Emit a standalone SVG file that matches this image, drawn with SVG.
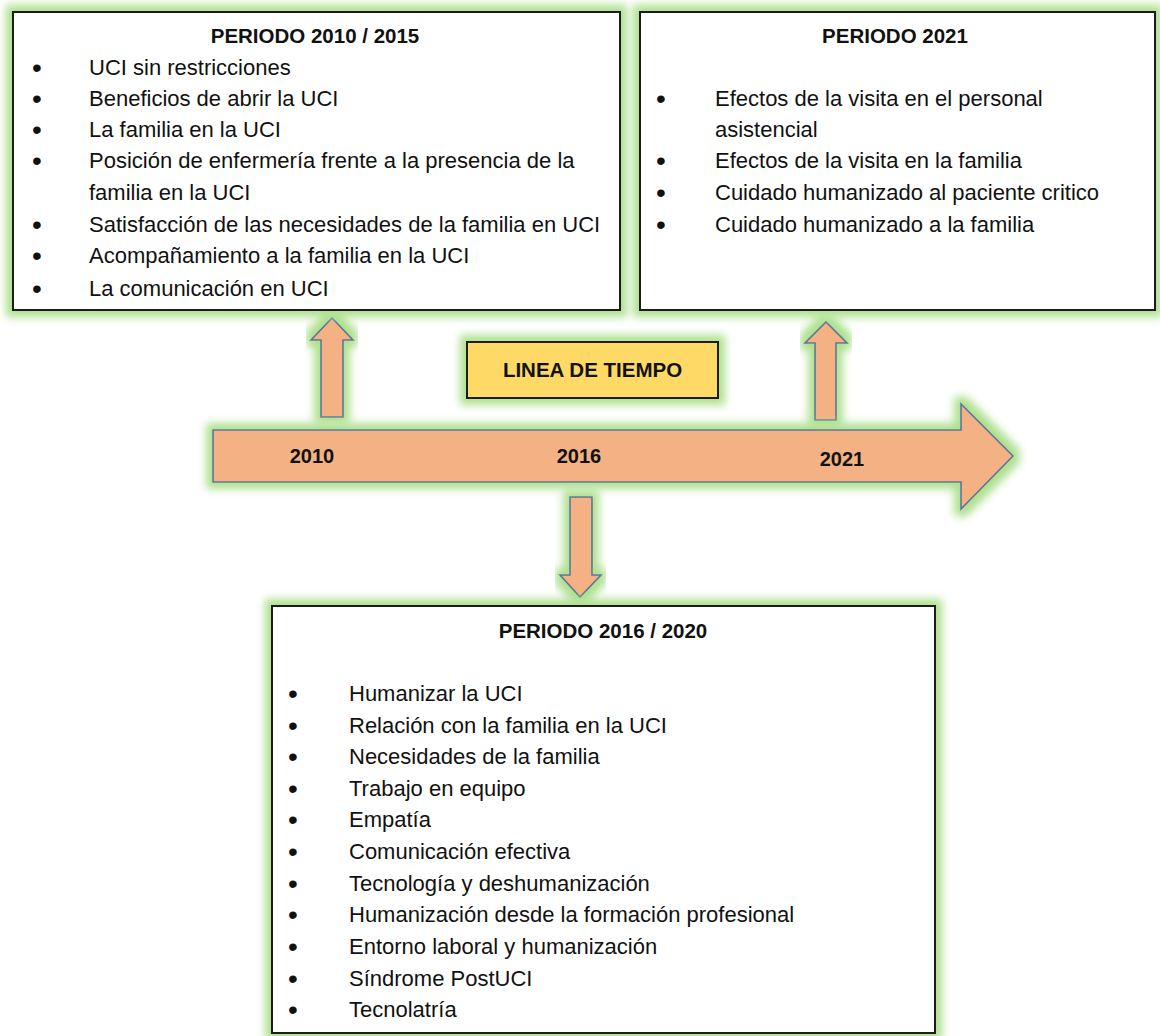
<svg xmlns="http://www.w3.org/2000/svg" width="1160" height="1036" viewBox="0 0 1160 1036">
<defs>
<filter id="glow" x="-10%" y="-25%" width="120%" height="150%">
<feMorphology in="SourceAlpha" operator="dilate" radius="6" result="d"/>
<feGaussianBlur in="d" stdDeviation="4.5" result="b"/>
<feFlood flood-color="#ADE08E" flood-opacity="1"/>
<feComposite in2="b" operator="in" result="g"/>
<feMerge><feMergeNode in="g"/><feMergeNode in="SourceGraphic"/></feMerge>
</filter>
<style>
.box{fill:#fff;stroke:#1a1a1a;stroke-width:2}
.tl{fill:#FFD966;stroke:#1a1a1a;stroke-width:2}
.arr{fill:#F4B183;stroke:#5B7499;stroke-width:1.6;stroke-linejoin:miter}
text{font-family:"Liberation Sans",Arial,sans-serif;fill:#111}
.t{font-size:20.5px;font-weight:bold;text-anchor:middle}
.i{font-size:22px}
.b text{font-size:28px;text-anchor:middle}
.y{font-size:20px;font-weight:bold;text-anchor:middle}
</style>
</defs>
<rect width="1160" height="1036" fill="#fff"/>

<g id="connectors">
<path class="arr" filter="url(#glow)" d="M321,417 V340 H311 L332,318 L353,340 H343 V417 Z"/>
<path class="arr" filter="url(#glow)" d="M815,420 V343 H805 L826,322 L847,343 H836 V420 Z"/>
<path class="arr" filter="url(#glow)" d="M570,497 V575 H560 L580,597 L601,575 H592 V497 Z"/>
</g>

<g id="node-timeline">
<path class="arr" filter="url(#glow)" d="M213,430 H961 V404 L1013,456 L961,509 V482 H213 Z"/>
<text class="y" x="312" y="463">2010</text>
<text class="y" x="579" y="463">2016</text>
<text class="y" x="842" y="466">2021</text>
</g>

<g id="node-title">
<rect class="tl" filter="url(#glow)" x="467" y="342" width="251" height="56"/>
<text class="t" x="592.5" y="377" style="font-size:20.5px">LINEA DE TIEMPO</text>
</g>

<g id="node-p2010">
<rect class="box" filter="url(#glow)" x="13" y="12" width="607" height="298"/>
<text class="t" x="315" y="43">PERIODO 2010 / 2015</text>
<g class="b">
<text x="37" y="77">•</text>
<text x="37" y="108">•</text>
<text x="37" y="139">•</text>
<text x="37" y="170">•</text>
<text x="37" y="234">•</text>
<text x="37" y="265">•</text>
<text x="37" y="298">•</text>
</g>
<text class="i" x="89" y="75">UCI sin restricciones</text>
<text class="i" x="89" y="106">Beneficios de abrir la UCI</text>
<text class="i" x="89" y="137">La familia en la UCI</text>
<text class="i" x="89" y="168">Posición de enfermería frente a la presencia de la</text>
<text class="i" x="89" y="200">familia en la UCI</text>
<text class="i" x="89" y="232">Satisfacción de las necesidades de la familia en UCI</text>
<text class="i" x="89" y="263">Acompañamiento a la familia en la UCI</text>
<text class="i" x="89" y="296">La comunicación en UCI</text>
</g>

<g id="node-p2021">
<rect class="box" filter="url(#glow)" x="640" y="12" width="515" height="298"/>
<text class="t" x="895" y="43">PERIODO 2021</text>
<g class="b">
<text x="661" y="108">•</text>
<text x="661" y="170">•</text>
<text x="661" y="202">•</text>
<text x="661" y="234">•</text>
</g>
<text class="i" x="715" y="106">Efectos de la visita en el personal</text>
<text class="i" x="715" y="137">asistencial</text>
<text class="i" x="715" y="168">Efectos de la visita en la familia</text>
<text class="i" x="715" y="200">Cuidado humanizado al paciente critico</text>
<text class="i" x="715" y="232">Cuidado humanizado a la familia</text>
</g>

<g id="node-p2016">
<rect class="box" filter="url(#glow)" x="272" y="606" width="663" height="427"/>
<text class="t" x="603" y="638">PERIODO 2016 / 2020</text>
<g class="b">
<text x="293" y="703">•</text>
<text x="293" y="735">•</text>
<text x="293" y="766">•</text>
<text x="293" y="798">•</text>
<text x="293" y="829">•</text>
<text x="293" y="861">•</text>
<text x="293" y="893">•</text>
<text x="293" y="924">•</text>
<text x="293" y="956">•</text>
<text x="293" y="988">•</text>
<text x="293" y="1019">•</text>
</g>
<text class="i" x="349" y="701">Humanizar la UCI</text>
<text class="i" x="349" y="733">Relación con la familia en la UCI</text>
<text class="i" x="349" y="764">Necesidades de la familia</text>
<text class="i" x="349" y="796">Trabajo en equipo</text>
<text class="i" x="349" y="827">Empatía</text>
<text class="i" x="349" y="859">Comunicación efectiva</text>
<text class="i" x="349" y="891">Tecnología y deshumanización</text>
<text class="i" x="349" y="922">Humanización desde la formación profesional</text>
<text class="i" x="349" y="954">Entorno laboral y humanización</text>
<text class="i" x="349" y="986">Síndrome PostUCI</text>
<text class="i" x="349" y="1017">Tecnolatría</text>
</g>
</svg>
